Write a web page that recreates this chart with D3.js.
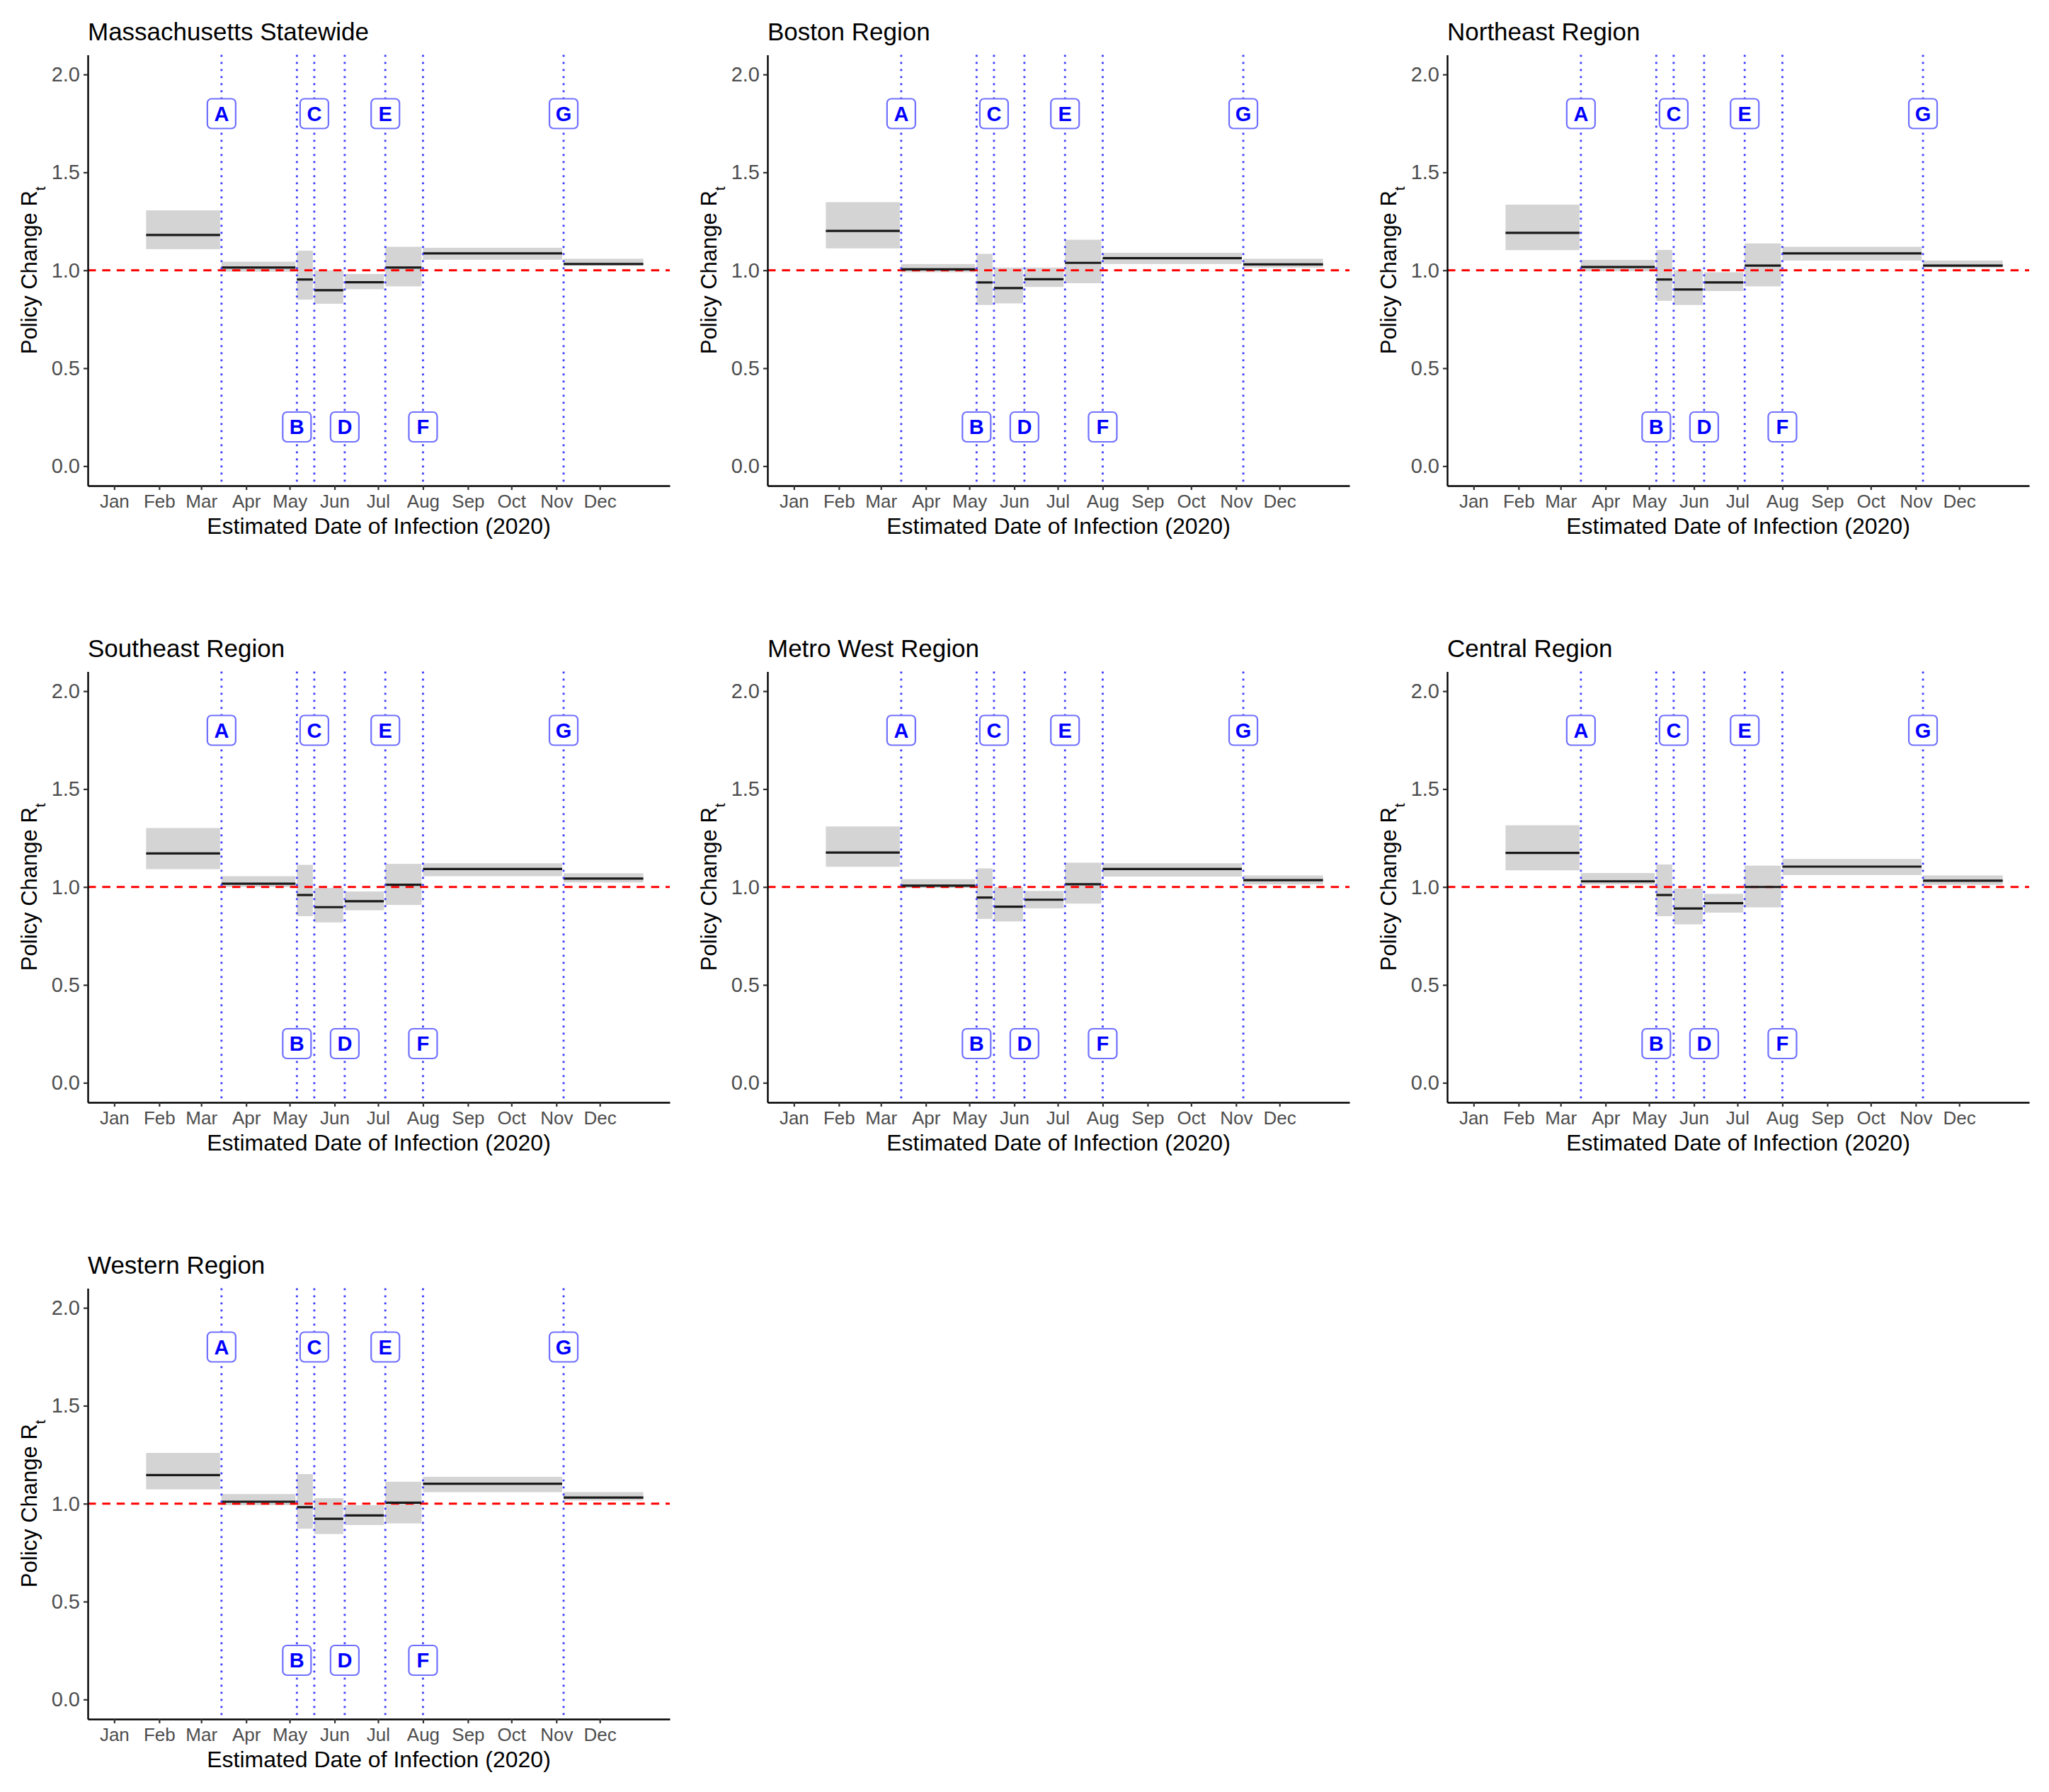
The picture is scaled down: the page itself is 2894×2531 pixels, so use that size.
<!DOCTYPE html>
<html><head><meta charset="utf-8">
<script src="https://cdn.jsdelivr.net/npm/d3@7/dist/d3.min.js"></script>
<style>body{margin:0;background:#fff}svg{display:block}</style>
</head><body><svg id="chart"></svg>
<script>
// ---------------- DATA ----------------
const regionNames = ["Massachusetts Statewide","Boston Region","Northeast Region","Southeast Region","Metro West Region","Central Region","Western Region"];

const segStarts = ["2020-01-23","2020-03-15","2020-05-06","2020-05-18","2020-06-08","2020-07-06","2020-08-01","2020-11-06"];
const segEnds   = ["2020-03-14","2020-05-05","2020-05-17","2020-06-07","2020-07-05","2020-07-31","2020-11-05","2020-12-31"];

const eventLabels = ["A","B","C","D","E","F","G"];
const eventDates  = ["2020-03-15","2020-05-06","2020-05-18","2020-06-08","2020-07-06","2020-08-01","2020-11-06"];
const eventLabelY = [1.8,0.2,1.8,0.2,1.8,0.2,1.8];

const monthTicks  = ["2020-01-01","2020-02-01","2020-03-01","2020-04-01","2020-05-01","2020-06-01","2020-07-01","2020-08-01","2020-09-01","2020-10-01","2020-11-01","2020-12-01"];
const monthLabels = ["Jan","Feb","Mar","Apr","May","Jun","Jul","Aug","Sep","Oct","Nov","Dec"];
const yTicks = [0,0.5,1,1.5,2];
const yTickLabels = ["0.0","0.5","1.0","1.5","2.0"];

const rtStatewide  = [1.180,1.014,0.953,0.898,0.939,1.014,1.086,1.032];
const loStatewide  = [1.108,0.993,0.850,0.829,0.903,0.918,1.054,1.024];
const hiStatewide  = [1.306,1.044,1.100,1.000,0.981,1.120,1.115,1.059];

const rtBoston     = [1.201,1.005,0.938,0.909,0.954,1.038,1.062,1.030];
const loBoston     = [1.112,0.990,0.823,0.831,0.915,0.934,1.032,1.014];
const hiBoston     = [1.348,1.032,1.084,1.014,1.014,1.156,1.089,1.059];

const rtNortheast  = [1.191,1.017,0.953,0.902,0.938,1.024,1.086,1.024];
const loNortheast  = [1.103,0.995,0.844,0.823,0.894,0.918,1.050,1.014];
const hiNortheast  = [1.335,1.053,1.104,1.000,0.990,1.137,1.120,1.050];

const rtSoutheast  = [1.171,1.017,0.959,0.897,0.927,1.011,1.092,1.043];
const loSoutheast  = [1.091,1.000,0.851,0.819,0.881,0.908,1.055,1.023];
const hiSoutheast  = [1.301,1.055,1.113,0.995,0.977,1.118,1.121,1.070];

const rtMetroWest  = [1.176,1.007,0.946,0.899,0.935,1.014,1.092,1.035];
const loMetroWest  = [1.103,0.995,0.837,0.824,0.891,0.915,1.053,1.013];
const hiMetroWest  = [1.309,1.040,1.095,0.999,0.980,1.124,1.121,1.059];

const rtCentral    = [1.174,1.029,0.959,0.890,0.917,1.000,1.104,1.032];
const loCentral    = [1.085,1.013,0.851,0.809,0.869,0.896,1.061,1.011];
const hiCentral    = [1.315,1.071,1.115,0.992,0.965,1.109,1.143,1.059];

const rtWestern    = [1.146,1.010,0.982,0.923,0.940,1.005,1.102,1.031];
const loWestern    = [1.073,0.992,0.872,0.845,0.891,0.899,1.059,1.016];
const hiWestern    = [1.259,1.049,1.151,1.028,0.992,1.112,1.137,1.059];

const rtMeans = [rtStatewide,rtBoston,rtNortheast,rtSoutheast,rtMetroWest,rtCentral,rtWestern];
const rtLows  = [loStatewide,loBoston,loNortheast,loSoutheast,loMetroWest,loCentral,loWestern];
const rtHighs = [hiStatewide,hiBoston,hiNortheast,hiSoutheast,hiMetroWest,hiCentral,hiWestern];

// ---------------- LAYOUT ----------------
const W = 2894, H = 2531;
const colStep = 960, rowStep = 871;
const P = {left:124, right:946, top:77.5, bottom:686};
const FONT = "'Liberation Sans', Arial, Helvetica, sans-serif";

const parse = d3.timeParse("%Y-%m-%d");
const d0 = parse("2020-01-01"), d1 = parse("2020-12-31");
const pad = (d1 - d0) * 0.05;

const x = d3.scaleTime().domain([new Date(+d0 - pad), new Date(+d1 + pad)]).range([P.left, P.right]);
const y = d3.scaleLinear().domain([-0.1, 2.1]).range([P.bottom, P.top]);

const svg = d3.select("#chart").attr("width", W).attr("height", H)
  .attr("viewBox", `0 0 ${W} ${H}`).style("font-family", FONT);
svg.append("rect").attr("width", W).attr("height", H).attr("fill", "#fff");

regionNames.forEach((name, i) => {
  const col = i % 3, row = Math.floor(i / 3);
  const g = svg.append("g").attr("transform", `translate(${col*colStep},${row*rowStep})`);
  const segs = segStarts.map((s, j) => ({s: parse(s), e: parse(segEnds[j]), m: rtMeans[i][j], lo: rtLows[i][j], hi: rtHighs[i][j]}));

  // ribbons
  g.selectAll("rect.band").data(segs).join("rect").attr("class","band")
    .attr("x", d => x(d.s)).attr("width", d => x(d.e) - x(d.s))
    .attr("y", d => y(d.hi)).attr("height", d => y(d.lo) - y(d.hi))
    .attr("fill", "#D4D4D4");

  // reference line at 1
  g.append("line").attr("x1", P.left).attr("x2", P.right)
    .attr("y1", y(1)).attr("y2", y(1))
    .attr("stroke", "#FF0000").attr("stroke-width", 3.2).attr("stroke-dasharray", "11.5,8.9");

  // mean lines
  g.selectAll("line.mean").data(segs).join("line").attr("class","mean")
    .attr("x1", d => x(d.s)).attr("x2", d => x(d.e))
    .attr("y1", d => y(d.m)).attr("y2", d => y(d.m))
    .attr("stroke", "#1a1a1a").attr("stroke-width", 3.2);

  // event vlines
  const ev = eventDates.map((d, j) => ({d: parse(d), lab: eventLabels[j], ly: eventLabelY[j]}));
  g.selectAll("line.ev").data(ev).join("line").attr("class","ev")
    .attr("x1", d => x(d.d)).attr("x2", d => x(d.d))
    .attr("y1", P.top).attr("y2", P.bottom)
    .attr("stroke", "#3a3aff").attr("stroke-width", 2.8).attr("stroke-dasharray", "2.8,7.2");

  // axes
  const ya = g.append("g").attr("transform", `translate(${P.left},0)`)
    .call(d3.axisLeft(y).tickValues(yTicks).tickFormat((d, k) => yTickLabels[k]).tickSize(6).tickSizeOuter(0).tickPadding(5));
  const xa = g.append("g").attr("transform", `translate(0,${P.bottom})`)
    .call(d3.axisBottom(x).tickValues(monthTicks.map(parse)).tickFormat((d, k) => monthLabels[k]).tickSize(6).tickSizeOuter(0).tickPadding(7));
  [ya, xa].forEach(a => {
    a.select(".domain").attr("stroke", "#000").attr("stroke-width", 2.4);
    a.selectAll(".tick line").attr("stroke", "#333").attr("stroke-width", 2.2);
    a.selectAll(".tick text").attr("fill", "#4D4D4D").style("font-family", FONT);
  });
  ya.selectAll(".tick text").style("font-size", "29px");
  xa.selectAll(".tick text").style("font-size", "26px");

  // event labels
  const lg = g.selectAll("g.lab").data(ev).join("g").attr("class","lab")
    .attr("transform", d => `translate(${x(d.d)},${y(d.ly)})`);
  lg.append("rect").attr("x", -20).attr("y", -21).attr("width", 40).attr("height", 42)
    .attr("rx", 6).attr("fill", "#fff").attr("stroke", "#7070ff").attr("stroke-width", 2.2);
  lg.append("text").text(d => d.lab).attr("text-anchor", "middle").attr("dy", "0.36em")
    .attr("fill", "#0000FF").style("font-weight", "bold").style("font-size", "29px");

  // title
  g.append("text").attr("x", P.left).attr("y", 57).text(name)
    .attr("fill", "#000").style("font-size", "35px");

  // x title
  g.append("text").attr("x", (P.left + P.right) / 2).attr("y", 754).attr("text-anchor", "middle")
    .text("Estimated Date of Infection (2020)").attr("fill", "#000").style("font-size", "32px");

  // y title
  const yt = g.append("text").attr("transform", `translate(52,${(P.top + P.bottom) / 2}) rotate(-90)`)
    .attr("text-anchor", "middle").attr("fill", "#000").style("font-size", "31px");
  yt.append("tspan").text("Policy Change R");
  yt.append("tspan").text("t").attr("baseline-shift", "sub").style("font-size", "21px");
});
</script></body></html>
